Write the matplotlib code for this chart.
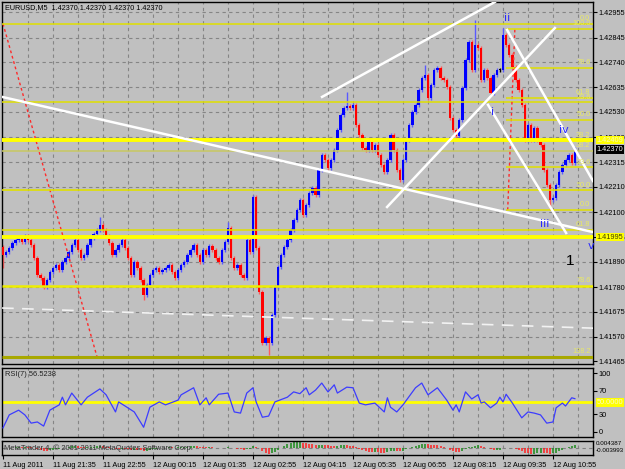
import matplotlib.pyplot as plt
import matplotlib.transforms as mtransforms
import numpy as np
import pandas as pd

plt.rcParams['font.family'] = ['Liberation Sans', 'DejaVu Sans']

# EURUSD M5 closes, bar 0 = 11 Aug 20:15
closes = [
    1.41918, 1.41931, 1.41948, 1.41969, 1.41982, 1.41991, 1.41974, 1.41999, 1.41982, 1.41961,
    1.41905, 1.41833, 1.41820, 1.41782, 1.41811, 1.41846, 1.41863, 1.41876, 1.41854, 1.41888,
    1.41905, 1.41931, 1.41961, 1.41982, 1.41939, 1.41905, 1.41918, 1.41961, 1.41991, 1.42008,
    1.42025, 1.42046, 1.42025, 1.41999, 1.41969, 1.41918, 1.41939, 1.41961, 1.41982, 1.41948,
    1.41905, 1.41833, 1.41888, 1.41863, 1.41811, 1.41747, 1.41790, 1.41833, 1.41854, 1.41863,
    1.41846, 1.41854, 1.41863, 1.41876, 1.41846, 1.41820, 1.41854, 1.41876, 1.41888, 1.41918,
    1.41939, 1.41961, 1.41918, 1.41888, 1.41939, 1.41918, 1.41957, 1.41939, 1.41905, 1.41888,
    1.41939, 1.41974, 1.42033, 1.41905, 1.41863, 1.41876, 1.41833, 1.41820, 1.41982, 1.41931,
    1.42166, 1.41948, 1.41760, 1.41543, 1.41564, 1.41543, 1.41662, 1.41782, 1.41867, 1.41918,
    1.41952, 1.41982, 1.42025, 1.42068, 1.42110, 1.42153, 1.42089, 1.42132, 1.42183, 1.42204,
    1.42174, 1.42281, 1.42345, 1.42324, 1.42290, 1.42324, 1.42367, 1.42452, 1.42516, 1.42546,
    1.42555, 1.42546, 1.42559, 1.42473, 1.42430, 1.42375, 1.42367, 1.42401, 1.42367, 1.42388,
    1.42345, 1.42302, 1.42273, 1.42324, 1.42430, 1.42367, 1.42281, 1.42238, 1.42324, 1.42409,
    1.42473, 1.42529, 1.42559, 1.42623, 1.42674, 1.42687, 1.42589, 1.42644, 1.42708, 1.42717,
    1.42674, 1.42665, 1.42636, 1.42503, 1.42452, 1.42426, 1.42495, 1.42631, 1.42751, 1.42828,
    1.42708, 1.42815, 1.42802, 1.42665, 1.42708, 1.42674, 1.42610, 1.42687, 1.42708, 1.42708,
    1.42858, 1.42815, 1.42772, 1.42721, 1.42665, 1.42623, 1.42559, 1.42409, 1.42473, 1.42409,
    1.42460, 1.42409, 1.42388, 1.42281, 1.42217, 1.42153, 1.42162, 1.42217, 1.42273, 1.42302,
    1.42324, 1.42345, 1.42311, 1.42370,
]
first_open = 1.41952
wick = 0.00009
high_marks = {31: 1.42080, 72: 1.42059, 80: 1.42174, 110: 1.42614, 135: 1.42729,
              151: 1.42922, 160: 1.42887}
low_marks = {0: 1.41863, 45: 1.41726, 85: 1.41491, 175: 1.42110}

# RSI(7)
rsi_bars = [0, 2, 5, 7, 9, 11, 13, 15, 18, 19, 20, 22, 25, 27, 31, 33, 36, 37, 42, 45,
            47, 50, 52, 56, 57, 61, 63, 65, 66, 69, 72, 74, 76, 78, 80, 81, 83, 85, 87, 91,
            93, 95, 97, 98, 100, 102, 104, 106, 107, 110, 112, 114, 116, 119, 122, 123, 124, 126, 128, 132,
            134, 136, 139, 142, 144, 145, 146, 148, 150, 152, 153, 154, 156, 158, 159, 160, 161, 163, 166, 168,
            170, 172, 174, 176, 177, 179, 180, 182, 183]
rsi_vals = [7, 29, 37, 29, 15, 17, 10, 37, 46, 59, 46, 66, 46, 59, 73, 63, 34, 51, 34, 8,
            42, 51, 46, 54, 63, 75, 46, 58, 46, 64, 66, 34, 32, 66, 75, 51, 25, 27, 51, 59,
            68, 65, 75, 63, 71, 83, 68, 80, 66, 76, 75, 49, 46, 49, 34, 58, 42, 34, 46, 75,
            83, 63, 75, 54, 37, 46, 34, 68, 56, 63, 49, 51, 41, 49, 59, 51, 64, 49, 24, 34,
            32, 29, 15, 17, 41, 49, 44, 58, 56.5]
rsi_last = 56.5238

price_ticks = [1.42955, 1.42845, 1.42740, 1.42635, 1.42530, 1.42420, 1.42315, 1.42210,
               1.42100, 1.41995, 1.41890, 1.41780, 1.41675, 1.41570, 1.41465]
time_bars = [0, 16, 32, 48, 64, 80, 96, 112, 128, 144, 160, 176]
time_labels = ['11 Aug 2011', '11 Aug 21:35', '11 Aug 22:55', '12 Aug 00:15', '12 Aug 01:35',
               '12 Aug 02:55', '12 Aug 04:15', '12 Aug 05:35', '12 Aug 06:55', '12 Aug 08:15',
               '12 Aug 09:35', '12 Aug 10:55']

# fibonacci objects: (bar, price) anchors
fib_levels = [0, 23.6, 38.2, 50.0, 61.8, 78.6, 100.0]
fib1_a = (0, 1.42905)
fib1_b = (30.1, 1.41483)
fib1_labels = ['0.0', '23.6', '38.2', '50.0', '61.8', '78.6', '138.2']
fib2_a = (161.5, 1.42110)
fib2_b = (163.8, 1.42883)
fib2_labels = ['0.0', '23.6', '38.2', '50.0', '61.8', '78.6', '100.0']
hlines_thick = [1.42409, 1.41995]
bid = 1.42370

# trend lines: ((bar, price), (bar, price))
white_lines = [((-0.3, 1.42593), (188.8, 1.42016)),
               ((102.1, 1.42593), (157.4, 1.42998)),
               ((122.9, 1.42123), (176.6, 1.42887)),
               ((161.3, 1.42879), (188.8, 1.42234)),
               ((155.2, 1.42559), (180.2, 1.42012))]
dashed_line = ((-0.3, 1.41692), (188.8, 1.41606))

waves = [('i', 156.5, 1.42529), ('ii', 161.3, 1.42930), ('iii', 173.4, 1.42051),
         ('iv', 179.5, 1.42452), ('v', 188.3, 1.41957)]

W, H = 625, 469
BG = '#c0c0c0'
FS = 5.3


def box(x0, y0, x1, y1):
    return [x0 / W, 1 - y1 / H, (x1 - x0) / W, (y1 - y0) / H]


fig = plt.figure(figsize=(6.25, 4.69), dpi=100)
fig.patch.set_facecolor(BG)

ax = fig.add_axes(box(2, 2, 593, 364))
ax2 = fig.add_axes(box(2, 368, 593, 437))
ax3 = fig.add_axes(box(2, 441, 593, 455))

xlim = (-0.32, 188.8)
for a in (ax, ax2, ax3):
    a.set_facecolor(BG)
    a.set_xlim(*xlim)
    for s in a.spines.values():
        s.set_color('black')
        s.set_linewidth(1)
    a.yaxis.tick_right()
    a.tick_params(axis='y', length=3, pad=1, labelsize=FS, colors='black')
    for b in range(8, 189, 8):
        a.axvline(b, color='#858585', lw=0.8, ls=(0, (3, 3)), zorder=0)

# ---- main price window
ax.set_ylim(1.41453, 1.42998)
ax.set_yticks(price_ticks)
ax.set_yticklabels([f'{p:.5f}' for p in price_ticks])
ax.tick_params(axis='x', bottom=False, labelbottom=False)
for p in price_ticks[:-1]:
    ax.axhline(p, color='#858585', lw=0.8, ls=(0, (3, 3)), zorder=0)

c = np.array(closes)
o = np.array([first_open] + closes[:-1])
idx = np.arange(len(c))
hi = np.maximum(o, c) + wick
lo = np.minimum(o, c) - wick
for k, v in high_marks.items():
    hi[k] = v
for k, v in low_marks.items():
    lo[k] = v
body_col = np.where(c > o, '#0000ff', np.where(c < o, '#ff0000', '#000000'))
wick_col = np.where(c > o, '#5a5aff', np.where(c < o, '#ff5a5a', '#000000'))
ax.vlines(idx, lo, hi, colors=wick_col, lw=1, zorder=2)
height = np.where(c == o, 0.00002, c - o)
ax.bar(idx, height, bottom=o, width=0.78, color=body_col, linewidth=0, zorder=3)


def draw_fib(a, b, labels, start, lw_list, col_list):
    p0, p100 = a[1], b[1]
    ax.plot([a[0], b[0]], [a[1], b[1]], color='#ff2a2a', lw=1, ls=(0, (2, 2)), zorder=4)
    for lev, lab, lw, col in zip(fib_levels, labels, lw_list, col_list):
        p = p0 + (p100 - p0) * lev / 100
        ax.plot([start, xlim[1]], [p, p], color=col, lw=lw, zorder=4, solid_capstyle='butt')
        ax.text(188.0, p + 0.00007, lab, ha='right', va='bottom', fontsize=FS,
                color='#e8e866', zorder=6)


draw_fib(fib1_a, fib1_b, fib1_labels, xlim[0],
         [1.1, 1.1, 1.1, 1.2, 1.1, 1.8, 2.2],
         ['#e0e000', '#e0e000', '#c8c860', '#e0e000', '#e0e000', '#eeee00', '#a8a800'])
draw_fib(fib2_a, fib2_b, fib2_labels, 161.0,
         [1.1] * 7, ['#e0e000'] * 7)
for p in hlines_thick:
    ax.axhline(p, color='#ffff00', lw=2.8, zorder=4)

for (x0, y0), (x1, y1) in white_lines:
    ax.plot([x0, x1], [y0, y1], color='white', lw=1.8, zorder=5, clip_on=True)
(x0, y0), (x1, y1) = dashed_line
ax.plot([x0, x1], [y0, y1], color='#f2f2f2', lw=1.2, ls=(0, (7, 5)), zorder=5)

for txt, bx, py in waves:
    ax.text(bx, py, txt, ha='center', va='center', fontsize=8, color='#2a2aff',
            family='DejaVu Sans', zorder=7, clip_on=False)
ax.text(181.6, 1.41893, '1', ha='center', va='center', fontsize=11, color='black', zorder=7)

blend = mtransforms.blended_transform_factory(ax.transAxes, ax.transData)
ax.text(1.006, hlines_thick[0], f'{hlines_thick[0]:.5f}', transform=blend, fontsize=FS,
        va='center', ha='left', color='#f8f8c0', clip_on=False, zorder=8,
        bbox=dict(facecolor='#ffff00', edgecolor='none', pad=0.5))
ax.text(1.006, hlines_thick[1], f'{hlines_thick[1]:.5f}', transform=blend, fontsize=FS,
        va='center', ha='left', color='#404000', clip_on=False, zorder=8,
        bbox=dict(facecolor='#ffff00', edgecolor='none', pad=0.5))
ax.text(1.006, bid, f'{bid:.5f}', transform=blend, fontsize=FS, va='center', ha='left',
        color='white', clip_on=False, zorder=9,
        bbox=dict(facecolor='black', edgecolor='none', pad=0.7))

fig.text(5 / W, 1 - 8 / H, 'EURUSD,M5  1.42370 1.42370 1.42370 1.42370',
         fontsize=5.2, va='center', ha='left', color='black')

# ---- RSI window
ax2.set_ylim(-8.5, 108.5)
ax2.set_yticks([0, 30, 70, 100])
ax2.set_yticklabels(['0', '30', '70', '100'])
ax2.tick_params(axis='x', bottom=False, labelbottom=False)
ax2.axhline(50, color='#ffff00', lw=2, zorder=2)
ax2.plot(rsi_bars, rsi_vals, color='#3c3cff', lw=0.9, zorder=3)
blend2 = mtransforms.blended_transform_factory(ax2.transAxes, ax2.transData)
ax2.text(1.006, 50, '50.0000', transform=blend2, fontsize=FS, va='center', ha='left',
         color='#fbfbc8', clip_on=False, bbox=dict(facecolor='#ffff00', edgecolor='none', pad=0.5))
fig.text(5 / W, 1 - 375 / H, f'RSI(7) {rsi_last:.4f}', fontsize=5.4, va='center',
         ha='left', color='#202020')

# ---- OsMA window
s = pd.Series(closes)
macd = s.ewm(span=12, adjust=False).mean() - s.ewm(span=26, adjust=False).mean()
osma = (macd - macd.rolling(9, min_periods=1).mean()).values
rising = np.r_[True, osma[1:] >= osma[:-1]]
lim = np.abs(osma).max() * 1.15
ax3.set_ylim(-lim, lim)
ax3.set_yticks([])
ax3.axhline(0, color='#808080', lw=0.8, ls=(0, (3, 3)), zorder=0)
ax3.vlines(idx, 0, osma, colors=np.where(rising, '#1a8a1a', '#ff2020'), lw=1.1, zorder=2)
ax3.text(1.005, 0.8, '0.004387', transform=ax3.transAxes, fontsize=4.5, va='center',
         ha='left', clip_on=False)
ax3.text(1.005, 0.3, '-0.003993', transform=ax3.transAxes, fontsize=4.5, va='center',
         ha='left', clip_on=False)
ax3.set_xticks(time_bars)
ax3.set_xticklabels(time_labels, fontsize=5.3)
ax3.tick_params(axis='x', length=3, pad=2, direction='out')
for lbl in ax3.get_xticklabels():
    lbl.set_horizontalalignment('left')
fig.text(4 / W, 1 - 448 / H, 'MetaTrader 4, \u00a9 2001-2011 MetaQuotes Software Corp.',
         fontsize=5.4, va='center', ha='left', color='#303030')

fig.savefig('out.png', dpi=100, facecolor=BG)
